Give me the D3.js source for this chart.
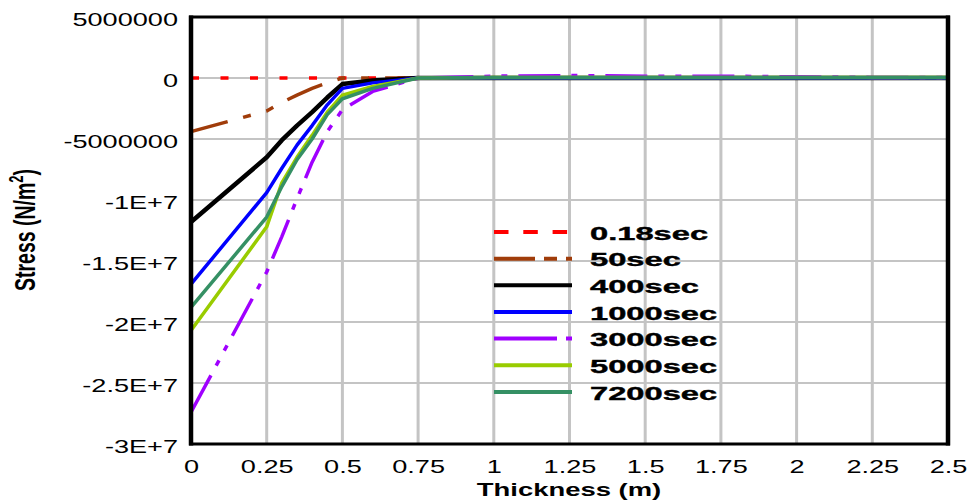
<!DOCTYPE html>
<html>
<head>
<meta charset="utf-8">
<script src="https://cdn.jsdelivr.net/npm/d3@7"></script>
<style>
  body { margin: 0; background: #fff; }
  svg { display: block; font-family: "Liberation Sans", Arial, sans-serif; }
</style>
</head>
<body>
<svg id="chart" width="973" height="504"></svg>
<script>
// data
var thickness = [0, 0.25, 0.3, 0.35, 0.4, 0.45, 0.5, 0.6, 0.75, 1, 1.25, 1.5, 1.75, 2, 2.25, 2.5];
var s018  = [0, 0, 0, 0, 0, 0, 0, 0, 0, 0, 0, 0, 0, 0, 0, 0];
var s50   = [-4.4e6, -2.7e6, -2.0e6, -1.4e6, -0.85e6, -0.4e6, 0, 0, 0, 0, 0, 0, 0, 0, 0, 0];
var s400  = [-11.8e6, -6.5e6, -5.1e6, -3.9e6, -2.8e6, -1.6e6, -0.5e6, -0.2e6, 0, 0, 0, 0, 0, 0, 0, 0];
var s1000 = [-16.9e6, -9.4e6, -7.4e6, -5.5e6, -3.9e6, -2.2e6, -0.85e6, -0.4e6, 0, 0, 0, 0, 0, 0, 0, 0];
var s3000 = [-27.4e6, -15.9e6, -13.0e6, -9.9e6, -6.9e6, -4.4e6, -2.6e6, -1.1e6, 0, 0.15e6, 0.2e6, 0.15e6, 0.15e6, 0.1e6, 0.05e6, 0.05e6];
var s5000 = [-20.7e6, -12.2e6, -8.6e6, -6.5e6, -4.7e6, -2.8e6, -1.4e6, -0.7e6, 0, 0.05e6, 0.05e6, 0.05e6, 0.05e6, 0.05e6, 0.05e6, 0.05e6];
var s7200 = [-18.8e6, -11.4e6, -8.9e6, -6.7e6, -5.0e6, -3.0e6, -1.7e6, -0.85e6, 0, 0.05e6, 0.05e6, 0.05e6, 0.05e6, 0.05e6, 0.05e6, 0.05e6];

var seriesNames = ["0.18sec", "50sec", "400sec", "1000sec", "3000sec", "5000sec", "7200sec"];
var seriesValues = [s018, s50, s400, s1000, s3000, s5000, s7200];

var xTicks = [0, 0.25, 0.5, 0.75, 1, 1.25, 1.5, 1.75, 2, 2.25, 2.5];
var xTickLabels = ["0", "0.25", "0.5", "0.75", "1", "1.25", "1.5", "1.75", "2", "2.25", "2.5"];
var yTicks = [5e6, 0, -5e6, -1e7, -1.5e7, -2e7, -2.5e7, -3e7];
var yTickLabels = ["5000000", "0", "-5000000", "-1E+7", "-1.5E+7", "-2E+7", "-2.5E+7", "-3E+7"];

// styling per series
var styles = [
  { color: "#ff0000", width: 3.5, dash: "8,21.5",               legendDash: "14.5,14.8" },
  { color: "#a03c0a", width: 3.5, dash: "38,16,8,16,8,16",      legendDash: "41,9,13,9,13,9" },
  { color: "#000000", width: 4.5, dash: null,                   legendDash: null },
  { color: "#0000ff", width: 3.5, dash: null,                   legendDash: null },
  { color: "#a000ff", width: 3.5, dash: "42,11,6,11,6,11",      legendDash: "63,9,6,9" },
  { color: "#99cc00", width: 3.5, dash: null,                   legendDash: null },
  { color: "#359064", width: 3.5, dash: null,                   legendDash: null }
];

var SX = 1.55; // the reference is stretched horizontally, text included

var svg = d3.select("#chart");
var plotL = 191, plotR = 948, plotT = 17, plotB = 444;

var x = d3.scaleLinear().domain([0, 2.5]).range([plotL, plotR]);
var y = d3.scaleLinear().domain([5e6, -3e7]).range([plotT, plotB]);

// gridlines
svg.append("g").selectAll("line")
  .data(xTicks.slice(1, -1))
  .enter().append("line")
  .attr("x1", d => x(d)).attr("x2", d => x(d))
  .attr("y1", plotT).attr("y2", plotB)
  .attr("stroke", "#c4c4c4").attr("stroke-width", 3);

svg.append("g").selectAll("line")
  .data(yTicks.slice(1, -1))
  .enter().append("line")
  .attr("x1", plotL).attr("x2", plotR)
  .attr("y1", d => y(d)).attr("y2", d => y(d))
  .attr("stroke", "#c4c4c4").attr("stroke-width", 2);

// axes (labels only)
var xAxis = svg.append("g")
  .attr("transform", `translate(0,${plotB})`)
  .call(d3.axisBottom(x).tickValues(xTicks).tickSize(0).tickFormat((d, i) => xTickLabels[i]));
xAxis.select(".domain").remove();
xAxis.selectAll("text")
  .attr("y", 0).attr("dy", 0)
  .attr("transform", `translate(0,29) scale(${SX},1)`)
  .attr("font-size", 17.5).attr("fill", "#000")
  .attr("font-family", "Liberation Sans, Arial, sans-serif");

var yAxis = svg.append("g")
  .attr("transform", `translate(${plotL},0)`)
  .call(d3.axisLeft(y).tickValues(yTicks).tickSize(0).tickFormat((d, i) => yTickLabels[i]));
yAxis.select(".domain").remove();
yAxis.selectAll("text")
  .attr("x", 0).attr("dy", 0)
  .attr("transform", `translate(-13,8) scale(${SX},1)`)
  .attr("font-size", 17.5).attr("fill", "#000")
  .attr("font-family", "Liberation Sans, Arial, sans-serif");

// series lines
var line = d3.line()
  .x((d, i) => x(thickness[i]))
  .y(d => y(d));

svg.append("g").selectAll("path")
  .data(seriesValues)
  .enter().append("path")
  .attr("d", d => line(d))
  .attr("fill", "none")
  .attr("stroke", (d, i) => styles[i].color)
  .attr("stroke-width", (d, i) => styles[i].width)
  .attr("stroke-dasharray", (d, i) => styles[i].dash)
  .attr("stroke-linejoin", "round");

// plot frame
svg.append("line").attr("x1", plotL - 2).attr("x2", plotR + 2).attr("y1", plotT).attr("y2", plotT)
  .attr("stroke", "#000").attr("stroke-width", 3);
svg.append("line").attr("x1", plotL - 2).attr("x2", plotR + 2).attr("y1", plotB).attr("y2", plotB)
  .attr("stroke", "#000").attr("stroke-width", 3);
svg.append("line").attr("x1", plotL).attr("x2", plotL).attr("y1", plotT - 1.5).attr("y2", plotB + 1.5)
  .attr("stroke", "#000").attr("stroke-width", 4.5);
svg.append("line").attr("x1", plotR).attr("x2", plotR).attr("y1", plotT - 1.5).attr("y2", plotB + 1.5)
  .attr("stroke", "#000").attr("stroke-width", 4.5);

// legend
var legend = svg.append("g").attr("transform", "translate(494,232)");
var row = legend.selectAll("g")
  .data(seriesNames)
  .enter().append("g")
  .attr("transform", (d, i) => `translate(0,${i * 26.65})`);
row.append("line")
  .attr("x1", 0).attr("x2", 78).attr("y1", 0).attr("y2", 0)
  .attr("stroke", (d, i) => styles[i].color)
  .attr("stroke-width", 4)
  .attr("stroke-dasharray", (d, i) => styles[i].legendDash);
row.append("text")
  .attr("transform", `translate(96,7.8) scale(1.72,1)`)
  .attr("font-size", 19).attr("font-weight", "bold")
  .attr("stroke", "#000").attr("stroke-width", 0.4)
  .text(d => d);

// axis titles
svg.append("text")
  .attr("transform", `translate(569,496) scale(${SX},1)`)
  .attr("text-anchor", "middle")
  .attr("font-size", 17.7).attr("font-weight", "bold")
  .text("Thickness (m)");

var yTitle = svg.append("text")
  .attr("transform", `translate(35,230) scale(${SX},1) rotate(-90)`)
  .attr("text-anchor", "middle")
  .attr("font-size", 19.5).attr("font-weight", "bold");
yTitle.append("tspan").text("Stress (N/m");
yTitle.append("tspan").attr("dy", -8).attr("font-size", 13).text("2");
yTitle.append("tspan").attr("dy", 8).text(")");
</script>
</body>
</html>
